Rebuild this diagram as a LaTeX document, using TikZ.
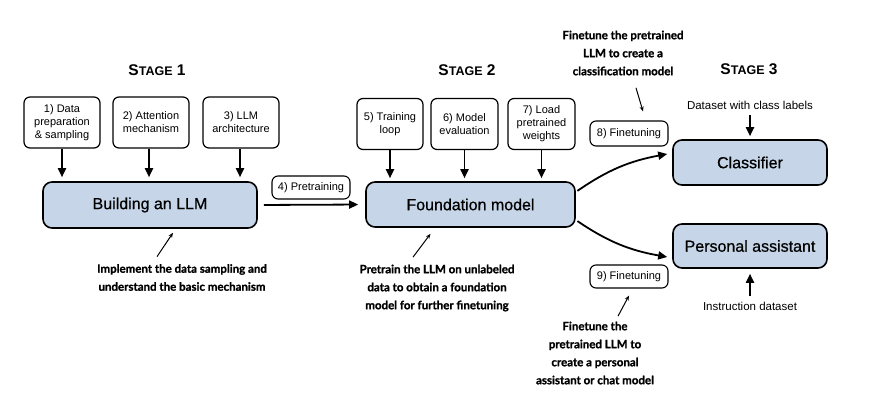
\documentclass[tikz,border=0pt]{standalone}
\usepackage{fontspec}
\setmainfont{Liberation Sans}
\newfontfamily\notefont{Lato}[BoldFeatures={FakeBold=1.2}]
\newfontfamily\boxfont{Liberation Sans}[UprightFeatures={FakeBold=0.6}]
\usetikzlibrary{arrows.meta, positioning, calc}
\definecolor{llmblue}{HTML}{C6D6E8}
\newcommand{\stagetitle}[1]{{\bfseries\fontsize{15.5}{18}\selectfont S\fontsize{12.5}{18}\selectfont TAGE\fontsize{15.5}{18}\selectfont\ #1}}

\begin{document}
\begin{tikzpicture}[x=1pt, y=-1pt,
  stepbox/.style={rectangle, draw, rounded corners=6pt, line width=1.2pt, minimum height=51pt, inner sep=2pt, align=center, font=\fontsize{11}{13}\selectfont},
  mainbox/.style={rectangle, draw, fill=llmblue, rounded corners=9pt, line width=1.6pt, font=\boxfont\fontsize{16}{18}\selectfont},
  tagbox/.style={rectangle, draw, rounded corners=6pt, line width=1.1pt, minimum width=78pt, minimum height=23pt, inner sep=2pt, font=\fontsize{11}{13}\selectfont},
  note/.style={align=center, font=\notefont\bfseries\fontsize{11.5}{18}\selectfont},
  plain/.style={font=\fontsize{11.5}{13}\selectfont},
  arrow/.style={-{Triangle[length=9pt, width=8pt]}, line width=1.8pt},
  pointer/.style={-{Stealth[length=5pt, width=4pt]}, line width=1pt}]
\useasboundingbox (0,0) rectangle (891,414);

\node (st1) at (157,70) {\stagetitle{1}};
\node (st2) at (467,70) {\stagetitle{2}};
\node (st3) at (749,69) {\stagetitle{3}};

\node[mainbox, minimum width=214pt, minimum height=46pt] (build) at (150,205) {Building an LLM};
\node[mainbox, minimum width=209pt, minimum height=45pt] (found) at (470.5,204.5) {Foundation model};
\node[mainbox, minimum width=154pt, minimum height=45pt] (clf) at (750,162.5) {Classifier};
\node[mainbox, minimum width=154pt, minimum height=44pt] (pa) at (750,246) {Personal assistant};

\node[stepbox, minimum width=76pt] (data) at (62,122.5) {1) Data\\preparation\\\& sampling};
\node[stepbox, minimum width=76pt] (attn) at (151,122.5) {2) Attention\\mechanism};
\node[stepbox, minimum width=76pt] (arch) at (241,122.5) {3) LLM\\architecture};
\node[stepbox, minimum width=66pt] (loop) at (390,124) {5) Training\\loop};
\node[stepbox, minimum width=67pt] (eval) at (464.5,124) {6) Model\\evaluation};
\node[stepbox, minimum width=67pt] (load) at (541.5,124) {7) Load\\pretrained\\weights};

\foreach \s/\x in {data/62, attn/149, arch/240}
  \draw[arrow, shorten >=4pt] (\s.south -| \x,0) -- (build.north -| \x,0);
\foreach \s in {loop, eval, load}
  \draw[arrow, shorten >=3pt] (\s.south) -- (\s.south |- found.north);

\node[tagbox] (pretr) at (311,187.5) {4) Pretraining};
\draw[arrow, shorten <=6pt, shorten >=7pt] (build.east) -- (found.west);

\node[tagbox, minimum height=25pt] (ft8) at (629,133.5) {8) Finetuning};
\node[tagbox] (ft9) at (629,276.5) {9) Finetuning};
\draw[arrow, shorten <=2pt] ([yshift=12.5pt]found.east) to[bend left=12] ([xshift=-5pt, yshift=8.5pt]clf.west);
\draw[arrow, shorten <=2pt] ([yshift=-15.5pt]found.east) to[bend right=12] ([xshift=-5pt, yshift=-11pt]pa.west);

\node[plain, above=26pt of clf] (dsc) {Dataset with class labels};
\node[plain, below=30pt of pa] (ins) {Instruction dataset};
\draw[arrow, shorten <=2pt, shorten >=3pt] (dsc.south) -- (clf.north);
\draw[arrow, shorten <=3pt, shorten >=5pt] (ins.north) -- (pa.south);

\node[note] (ann1) at (182,277.5) {Implement the data sampling and\\understand the basic mechanism};
\node[note] (ann2) at (437,288) {Pretrain the LLM on unlabeled\\data to obtain a foundation\\model for further finetuning};
\node[note] (ann3) at (623,53) {Finetune the pretrained\\LLM to create a\\classification model};
\node[note] (ann4) at (595,353) {Finetune the\\pretrained LLM to\\create a personal\\assistant or chat model};

\draw[pointer] ([xshift=-25pt, yshift=4pt]ann1.north) -- ([xshift=23pt, yshift=-4pt]build.south);
\draw[pointer] ([xshift=-24pt, yshift=4pt]ann2.north) -- ([xshift=-40pt, yshift=-6pt]found.south);
\draw[pointer] ([xshift=13pt, yshift=-9pt]ann3.south) -- ([xshift=14pt, yshift=9pt]ft8.north);
\draw[pointer] ([xshift=23pt, yshift=2pt]ann4.north) -- ([xshift=0pt, yshift=-7pt]ft9.south);
\end{tikzpicture}
\end{document}
